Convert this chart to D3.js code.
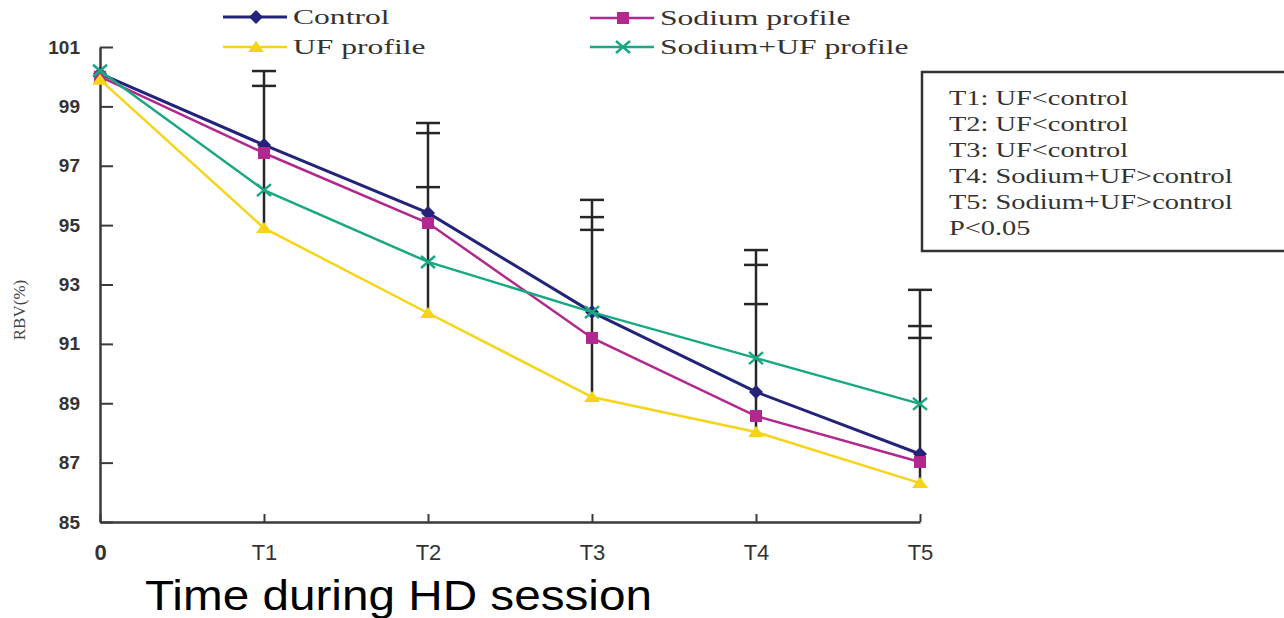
<!DOCTYPE html>
<html>
<head>
<meta charset="utf-8">
<script src="https://cdn.jsdelivr.net/npm/d3@7"></script>
<style>
  body { margin: 0; background: #fff; }
  svg { display: block; }
</style>
</head>
<body>
<svg id="chart" width="1284" height="618"></svg>
<script>
// values
const timeLabels = ['0', 'T1', 'T2', 'T3', 'T4', 'T5'];
const control = [100.1, 97.7, 95.41, 92.07, 89.38, 87.29];
const sodiumProfile = [100.0, 97.43, 95.07, 91.2, 88.57, 87.02];
const ufProfile = [99.9, 94.9, 92.04, 89.21, 88.03, 86.31];
const sodiumUfProfile = [100.2, 96.18, 93.76, 92.07, 90.52, 88.98];
// upper ends of the SD bars at each time point (caps)
const errorCaps = [[], [100.19, 99.69], [98.44, 98.1, 96.28], [95.85, 95.27, 94.84], [94.16, 93.66, 92.34], [92.82, 91.6, 91.2]];
const yTicks = [85, 87, 89, 91, 93, 95, 97, 99, 101];
const noteLines = ['T1: UF<control', 'T2: UF<control', 'T3: UF<control', 'T4: Sodium+UF>control', 'T5: Sodium+UF>control', 'P<0.05'];

const series = [
    { name: 'Control', values: control, color: '#23237a', marker: 'diamond', width: 3 },
    { name: 'Sodium profile', values: sodiumProfile, color: '#b1288f', marker: 'square', width: 2.5 },
    { name: 'UF profile', values: ufProfile, color: '#f7d417', marker: 'triangle', width: 2.5 },
    { name: 'Sodium+UF profile', values: sodiumUfProfile, color: '#19a882', marker: 'cross', width: 2.5 },
];

const svg = d3.select('#chart');
const x = d3.scalePoint().domain(timeLabels).range([100, 920]);
const y = d3.scaleLinear().domain([85, 101]).range([522, 47]);
const axisColor = '#3a3a3a';

function drawMarker(g, type, color) {
    if (type === 'diamond') {
        g.append('path').attr('d', 'M0,-7L7,0L0,7L-7,0Z').attr('fill', color);
    } else if (type === 'square') {
        g.append('rect').attr('x', -6).attr('y', -6).attr('width', 12).attr('height', 12).attr('fill', color);
    } else if (type === 'triangle') {
        g.append('path').attr('d', 'M0,-6L8,5L-8,5Z').attr('fill', color);
    } else {
        g.append('path').attr('d', 'M-7,-6L7,6M-7,6L7,-6')
            .attr('stroke', color).attr('stroke-width', 2.5).attr('fill', 'none');
    }
}

// error bars (drawn under the lines)
const errG = svg.append('g').attr('class', 'error-bars');
errorCaps.forEach((caps, i) => {
    if (caps.length === 0) return;
    const cx = x(timeLabels[i]);
    const low = d3.min(series, s => s.values[i]);
    errG.append('line')
        .attr('x1', cx).attr('x2', cx)
        .attr('y1', y(d3.max(caps))).attr('y2', y(low) - 4)
        .attr('stroke', '#262626').attr('stroke-width', 2.5);
    caps.forEach(c => {
        errG.append('line')
            .attr('x1', cx - 12).attr('x2', cx + 12)
            .attr('y1', y(c)).attr('y2', y(c))
            .attr('stroke', '#262626').attr('stroke-width', 2.5);
    });
});

// axes
const yAxis = d3.axisLeft(y).tickValues(yTicks).tickSizeInner(-13).tickSizeOuter(0).tickPadding(20);
const yG = svg.append('g').attr('transform', 'translate(100,0)').call(yAxis);
yG.select('.domain').attr('stroke', axisColor).attr('stroke-width', 2.5);
yG.selectAll('.tick line').attr('stroke', axisColor).attr('stroke-width', 2);
yG.selectAll('.tick text')
    .attr('fill', '#333')
    .style('font-family', 'Liberation Sans, Arial, sans-serif')
    .style('font-size', '19px').style('font-weight', 'bold');

const xAxis = d3.axisBottom(x).tickSizeInner(-8).tickSizeOuter(0).tickPadding(22);
const xG = svg.append('g').attr('transform', 'translate(0,522)').call(xAxis);
xG.select('.domain').attr('stroke', axisColor).attr('stroke-width', 2.5);
xG.selectAll('.tick line').attr('stroke', axisColor).attr('stroke-width', 2);
xG.selectAll('.tick text')
    .attr('fill', '#333')
    .style('font-family', 'Liberation Sans, Arial, sans-serif')
    .style('font-size', '22px');
xG.selectAll('.tick text').filter(d => d === '0').style('font-weight', 'bold');

svg.append('text')
    .attr('transform', 'translate(25,310) rotate(-90)')
    .attr('text-anchor', 'middle')
    .attr('fill', '#444')
    .style('font-family', 'Liberation Serif, Times New Roman, serif')
    .style('font-size', '17px')
    .text('RBV(%)');

svg.append('text')
    .attr('x', 145).attr('y', 610)
    .attr('textLength', 507).attr('lengthAdjust', 'spacingAndGlyphs')
    .attr('fill', '#000')
    .style('font-family', 'Liberation Sans, Arial, sans-serif')
    .style('font-size', '42px')
    .text('Time during HD session');

// series lines + markers
const line = d3.line().x((d, i) => x(timeLabels[i])).y(d => y(d));
series.forEach(s => {
    const g = svg.append('g').attr('class', 'series');
    g.append('path').datum(s.values)
        .attr('d', line)
        .attr('fill', 'none')
        .attr('stroke', s.color)
        .attr('stroke-width', s.width);
    s.values.forEach((v, i) => {
        const m = g.append('g').attr('transform', `translate(${x(timeLabels[i])},${y(v)})`);
        drawMarker(m, s.marker, s.color);
    });
});

// legend, two columns
const legendPos = [[223, 17], [590, 18], [223, 47], [590, 47]];
series.forEach((s, k) => {
    const [lx, ly] = legendPos[k];
    const g = svg.append('g').attr('transform', `translate(${lx},${ly})`);
    g.append('line').attr('x1', 0).attr('x2', 64).attr('y1', 0).attr('y2', 0)
        .attr('stroke', s.color).attr('stroke-width', s.width);
    const m = g.append('g').attr('transform', 'translate(33,0)');
    drawMarker(m, s.marker, s.color);
    g.append('text')
        .attr('transform', 'translate(70,7) scale(1.58,1)')
        .attr('fill', '#333')
        .style('font-family', 'Liberation Serif, Times New Roman, serif')
        .style('font-size', '20px')
        .text(s.name);
});

// significance note box
svg.append('rect')
    .attr('x', 922).attr('y', 72).attr('width', 420).attr('height', 179)
    .attr('fill', 'none').attr('stroke', '#333').attr('stroke-width', 2.5);
const note = svg.append('g').attr('class', 'note');
noteLines.forEach((t, i) => {
    note.append('text')
        .attr('transform', `translate(949,${105 + i * 26}) scale(1.42,1)`)
        .attr('fill', '#333')
        .style('font-family', 'Liberation Serif, Times New Roman, serif')
        .style('font-size', '20px')
        .text(t);
});
</script>
</body>
</html>
